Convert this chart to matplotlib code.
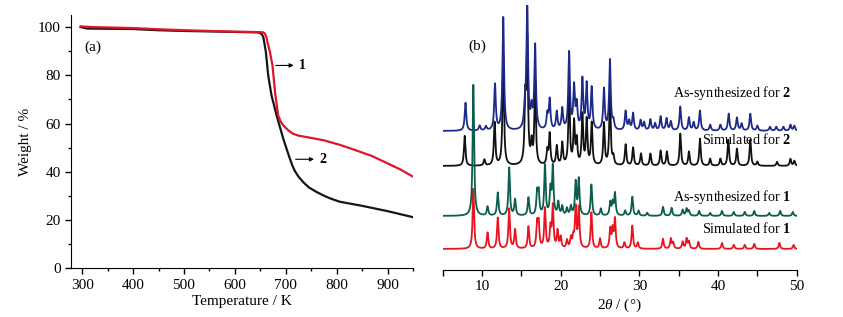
"""
TGA curves (a) and PXRD patterns (b) for compounds 1 and 2.
"""

import matplotlib
matplotlib.use("Agg")
import matplotlib.pyplot as plt
import numpy as np
from matplotlib.ticker import MultipleLocator

plt.rcParams["font.family"] = ["Liberation Serif", "DejaVu Serif"]
plt.rcParams["mathtext.fontset"] = "custom"
plt.rcParams["mathtext.rm"] = "Liberation Serif"
plt.rcParams["mathtext.it"] = "Liberation Serif:italic"
plt.rcParams["mathtext.bf"] = "Liberation Serif:bold"

# ---- TGA data (temperature in K, weight in %) ----
tga1_T = [297, 320, 400, 450, 500, 600, 650, 656, 659, 662, 665, 669, 674,
          679, 685, 690, 695, 700, 705, 714, 725, 741, 774, 806, 830, 850,
          870, 900, 925, 950]
tga1_w = [100.3, 100.0, 99.6, 99.1, 98.7, 98.1, 97.9, 97.8, 97.3, 95.8, 93.0,
          89.6, 84.0, 73.0, 63.4, 60.8, 59.3, 58.2, 57.2, 55.8, 55.0, 54.4,
          53.1, 51.2, 49.5, 48.0, 46.5, 43.5, 41.0, 38.0]

tga2_T = [297, 310, 400, 450, 500, 600, 645, 649, 653, 656, 661, 665.5, 672,
          682, 695, 708, 713, 718, 725, 734, 745, 760, 775, 787, 806, 850,
          900, 950]
tga2_w = [100.0, 99.4, 99.2, 98.7, 98.4, 98.0, 97.8, 97.6, 97.0, 95.8, 89.6,
          80.0, 71.7, 63.4, 53.8, 45.5, 42.6, 40.3, 38.0, 35.8, 33.6, 31.7,
          30.1, 29.0, 27.6, 25.9, 23.7, 21.2]

# ---- PXRD peak lists: 2theta position and peak height ----
sim1_pos = [8.9, 10.7, 12.0, 13.45, 14.2, 15.9, 17.0, 17.2, 18.0, 18.7, 19.0,
            19.6, 20.0, 20.8, 21.3, 21.6, 21.9, 22.3, 23.9, 25.0, 26.3, 26.6,
            26.9, 28.1, 29.1, 29.8, 33.0, 34.0, 34.3, 35.5, 36.0, 36.3, 37.5,
            40.5, 42.0, 43.4, 44.6, 47.8, 49.6]
sim1_h = [60, 16, 31, 40, 19, 22, 24, 24, 40, 20, 42,
          17, 11, 8, 10, 10, 40, 40, 36, 10, 19, 18,
          29, 6, 23, 6, 10, 10, 6, 7, 10, 7, 7,
          6, 4, 4, 5, 6, 4]

syn1_pos = [8.9, 10.7, 12.0, 13.45, 14.2, 15.9, 17.0, 17.2, 18.0, 18.7, 19.0,
            19.7, 20.2, 20.8, 21.3, 21.9, 22.3, 23.9, 25.1, 26.3, 26.6, 26.9,
            28.2, 29.1, 29.9, 31.0, 33.0, 34.1, 35.5, 36.0, 36.3, 37.6, 39.0,
            40.5, 42.0, 43.4, 44.6, 46.5, 47.9, 49.5]
syn1_h = [131, 9, 23, 48, 16, 18, 22, 22, 50, 25, 48,
          13, 9, 7, 9, 33, 36, 31, 7, 13, 12, 22,
          5, 19, 5, 3, 9, 8, 6, 7, 5, 5, 3,
          5, 4, 4, 5, 3, 5, 4]

sim2_pos = [7.8, 10.3, 11.6, 12.7, 15.5, 15.75, 16.3, 16.75, 18.3, 18.6, 19.5,
            20.2, 21.07, 21.7, 22.04, 22.76, 23.3, 23.94, 25.5, 26.26, 26.7,
            28.25, 29.2, 30.2, 31.4, 32.7, 33.5, 35.2, 36.3, 37.7, 39.0, 40.3,
            41.3, 42.4, 44.1, 45.0, 47.5, 49.2, 49.7]
sim2_h = [30, 6, 43, 110, 60, 120, 20, 82, 14, 31, 19,
          22, 76, 42, 24, 50, 45, 42, 42, 70, 8,
          21, 18, 12, 12, 15, 14, 32, 14, 27, 7, 7,
          26, 17, 26, 4, 4, 7, 5]

syn2_pos = [7.9, 9.7, 10.5, 11.65, 12.7, 15.45, 15.75, 16.3, 16.75, 18.3, 18.6,
            19.5, 20.2, 21.07, 21.7, 22.04, 22.76, 23.3, 23.94, 25.5, 26.26,
            26.7, 28.25, 28.7, 29.2, 30.15, 30.6, 31.4, 32.0, 32.7, 33.45,
            34.0, 35.2, 36.3, 36.9, 37.7, 39.0, 40.3, 41.35, 42.4, 43.0, 44.1,
            45.0, 46.6, 47.4, 48.3, 49.2, 49.7]
syn2_h = [28, 5, 4, 46, 113, 20, 125, 19, 84, 15, 30,
          18, 21, 77, 42, 24, 50, 45, 42, 41, 70,
          8, 19, 9, 17, 10, 8, 11, 7, 14, 12,
          9, 24, 13, 8, 20, 6, 6, 17, 13, 7, 17,
          5, 4, 4, 4, 6, 5]

# vertical offsets of the stacked patterns (plot units)
offsets = {"sim1": 21, "syn1": 54, "sim2": 104, "syn2": 139}


def profile(x, pos, h, fwhm):
    y = np.zeros_like(x)
    g = (fwhm / 2.0) ** 2
    for p, a in zip(pos, h):
        y += a * g / ((x - p) ** 2 + g)
    return y


fig = plt.figure(figsize=(8.43, 3.17), dpi=100)

# ---- (a) TGA ----
ax1 = fig.add_axes([0.0842, 0.1536, 0.4057, 0.799])
ax1.plot(tga2_T, tga2_w, color="#151515", lw=1.6, zorder=2)
ax1.plot(tga1_T, tga1_w, color="#e0142a", lw=1.6, zorder=3)
ax1.set_xlim(278, 950)
ax1.set_ylim(0, 105)
ax1.xaxis.set_major_locator(MultipleLocator(100))
ax1.xaxis.set_minor_locator(MultipleLocator(50))
ax1.yaxis.set_major_locator(MultipleLocator(20))
ax1.yaxis.set_minor_locator(MultipleLocator(10))
for s in ["top", "right"]:
    ax1.spines[s].set_visible(False)
ax1.tick_params(which="both", direction="out", labelsize=11, width=1)
ax1.tick_params(which="major", length=4)
ax1.tick_params(which="minor", length=2.5)
ax1.set_xlabel("Temperature / K", fontsize=11, labelpad=2)
ax1.set_ylabel("Weight / %", fontsize=11, labelpad=4)
ax1.text(0.04, 0.86, "(a)", transform=ax1.transAxes, fontsize=11)
arrow = dict(arrowstyle="-|>", color="black", lw=0.8, mutation_scale=6)
ax1.annotate("", xy=(721, 84.1), xytext=(675, 84.1), arrowprops=arrow)
ax1.text(725, 84.1, "1", fontsize=10, fontweight="bold", va="center")
ax1.annotate("", xy=(761, 45.2), xytext=(714, 45.2), arrowprops=arrow)
ax1.text(766, 45.2, "2", fontsize=10, fontweight="bold", va="center")

# ---- (b) PXRD ----
ax2 = fig.add_axes([0.5251, 0.1483, 0.42, 0.836])
x = np.arange(5.0, 50.0, 0.01)
ax2.plot(x, offsets["sim1"] + profile(x, sim1_pos, sim1_h, 0.22),
         color="#e8141e", lw=1.3, zorder=2)
ax2.plot(x, offsets["sim2"] + profile(x, sim2_pos, sim2_h, 0.22),
         color="#111111", lw=1.3, zorder=2)
ax2.plot(x, offsets["syn2"] + profile(x, syn2_pos, syn2_h, 0.24),
         color="#1e2a8a", lw=1.3, zorder=3)
ax2.plot(x, offsets["syn1"] + profile(x, syn1_pos, syn1_h, 0.22),
         color="#0b5e4e", lw=1.3, zorder=4)
ax2.set_xlim(5, 50)
ax2.set_ylim(0, 265)
ax2.xaxis.set_major_locator(MultipleLocator(10))
ax2.xaxis.set_minor_locator(MultipleLocator(5))
for s in ["top", "right", "left"]:
    ax2.spines[s].set_visible(False)
ax2.set_yticks([])
ax2.tick_params(which="both", direction="out", labelsize=11, width=1)
ax2.tick_params(which="major", length=4)
ax2.tick_params(which="minor", length=4)
ax2.set_xlabel(r"2$\it{\theta}$ / (°)", fontsize=11, labelpad=2)
ax2.text(0.074, 0.83, "(b)", transform=ax2.transAxes, fontsize=11)

labels = [(177, r"As-synthesized for $\mathbf{2}$"),
          (130, r"Simulated for $\mathbf{2}$"),
          (73, r"As-synthesized for $\mathbf{1}$"),
          (41, r"Simulated for $\mathbf{1}$")]
for yy, txt in labels:
    ax2.text(49.3, yy, txt, fontsize=10.2, ha="right", va="center")

fig.savefig("out.png", dpi=100)
